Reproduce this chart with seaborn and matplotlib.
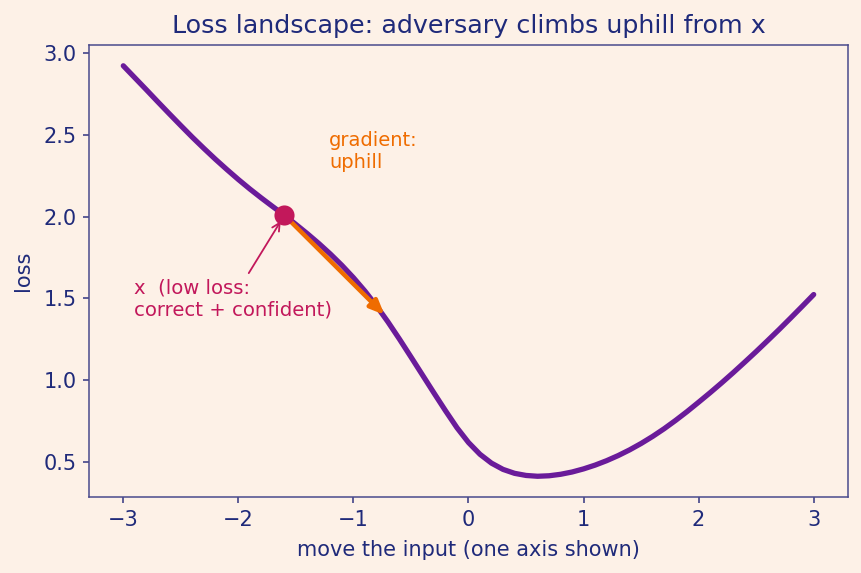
import numpy as np
import pandas as pd
import matplotlib
matplotlib.use("Agg")
import matplotlib.pyplot as plt
import seaborn as sns

# curve, every 0.1 along the input axis
pos = [-3.0, -2.9, -2.8, -2.7, -2.6, -2.5, -2.4, -2.3, -2.2, -2.1,
       -2.0, -1.9, -1.8, -1.7, -1.6, -1.5, -1.4, -1.3, -1.2, -1.1,
       -1.0, -0.9, -0.8, -0.7, -0.6, -0.5, -0.4, -0.3, -0.2, -0.1,
       0.0, 0.1, 0.2, 0.3, 0.4, 0.5, 0.6, 0.7, 0.8, 0.9,
       1.0, 1.1, 1.2, 1.3, 1.4, 1.5, 1.6, 1.7, 1.8, 1.9,
       2.0, 2.1, 2.2, 2.3, 2.4, 2.5, 2.6, 2.7, 2.8, 2.9, 3.0]
loss = [2.920, 2.847, 2.774, 2.700, 2.627, 2.555, 2.484, 2.416, 2.350, 2.287,
        2.226, 2.168, 2.113, 2.060, 2.008, 1.952, 1.895, 1.835, 1.771, 1.702,
        1.627, 1.545, 1.455, 1.357, 1.252, 1.143, 1.033, 0.923, 0.815, 0.711,
        0.621, 0.549, 0.495, 0.457, 0.433, 0.420, 0.415, 0.418, 0.427, 0.441,
        0.460, 0.483, 0.510, 0.541, 0.576, 0.615, 0.658, 0.705, 0.756, 0.810,
        0.867, 0.925, 0.985, 1.047, 1.111, 1.176, 1.243, 1.311, 1.381, 1.452, 1.524]

x0, y0 = -1.6, 2.008          # the clean input
grad_tip = (-0.73, 1.40)      # where the gradient arrow ends

bg = "#fdf1e7"
navy = "#1f2a7a"
spine = "#4a4a8c"
purple = "#6a1b9a"
crimson = "#c2185b"
orange = "#ef6c00"

sns.set_theme(style="white", rc={
    "figure.facecolor": bg,
    "axes.facecolor": bg,
    "axes.edgecolor": spine,
    "axes.linewidth": 1.1,
    "xtick.color": spine,
    "ytick.color": spine,
    "xtick.labelcolor": navy,
    "ytick.labelcolor": navy,
    "xtick.bottom": True,
    "ytick.left": True,
    "xtick.major.size": 4.5,
    "ytick.major.size": 4.5,
    "xtick.major.pad": 5,
    "ytick.major.pad": 4,
})
plt.rcParams["font.family"] = ["DejaVu Sans"]

df = pd.DataFrame({"pos": pos, "loss": loss})

fig, ax = plt.subplots(figsize=(8.62, 5.73), dpi=100)
fig.subplots_adjust(left=0.103, right=0.984, top=0.921, bottom=0.133)

sns.lineplot(data=df, x="pos", y="loss", color=purple, linewidth=3.8, ax=ax)
sns.scatterplot(x=[x0], y=[y0], color=crimson, s=210, linewidth=0, zorder=5, ax=ax)

ax.annotate("", xy=grad_tip, xytext=(x0, y0),
            arrowprops=dict(arrowstyle="-|>,head_length=0.7,head_width=0.3",
                            color=orange, lw=3.2, shrinkA=4, shrinkB=0))
ax.text(-1.21, 2.27, "gradient:\nuphill", color=orange, fontsize=14, va="bottom")

ax.annotate("x  (low loss:\ncorrect + confident)", xy=(x0, y0), xytext=(-2.91, 1.37),
            color=crimson, fontsize=14.1, va="bottom",
            arrowprops=dict(arrowstyle="->", color=crimson, lw=1.3,
                            shrinkA=2, shrinkB=5))

ax.set_title("Loss landscape: adversary climbs uphill from x", color=navy,
             fontsize=18.3, pad=9)
ax.set_xlabel("move the input (one axis shown)", color=navy, fontsize=15, labelpad=7)
ax.set_ylabel("loss", color=navy, fontsize=15, labelpad=8)
ax.tick_params(labelsize=15)
ax.set_yticks([0.5, 1.0, 1.5, 2.0, 2.5, 3.0])

fig.savefig("out.png", dpi=100, facecolor=bg)
